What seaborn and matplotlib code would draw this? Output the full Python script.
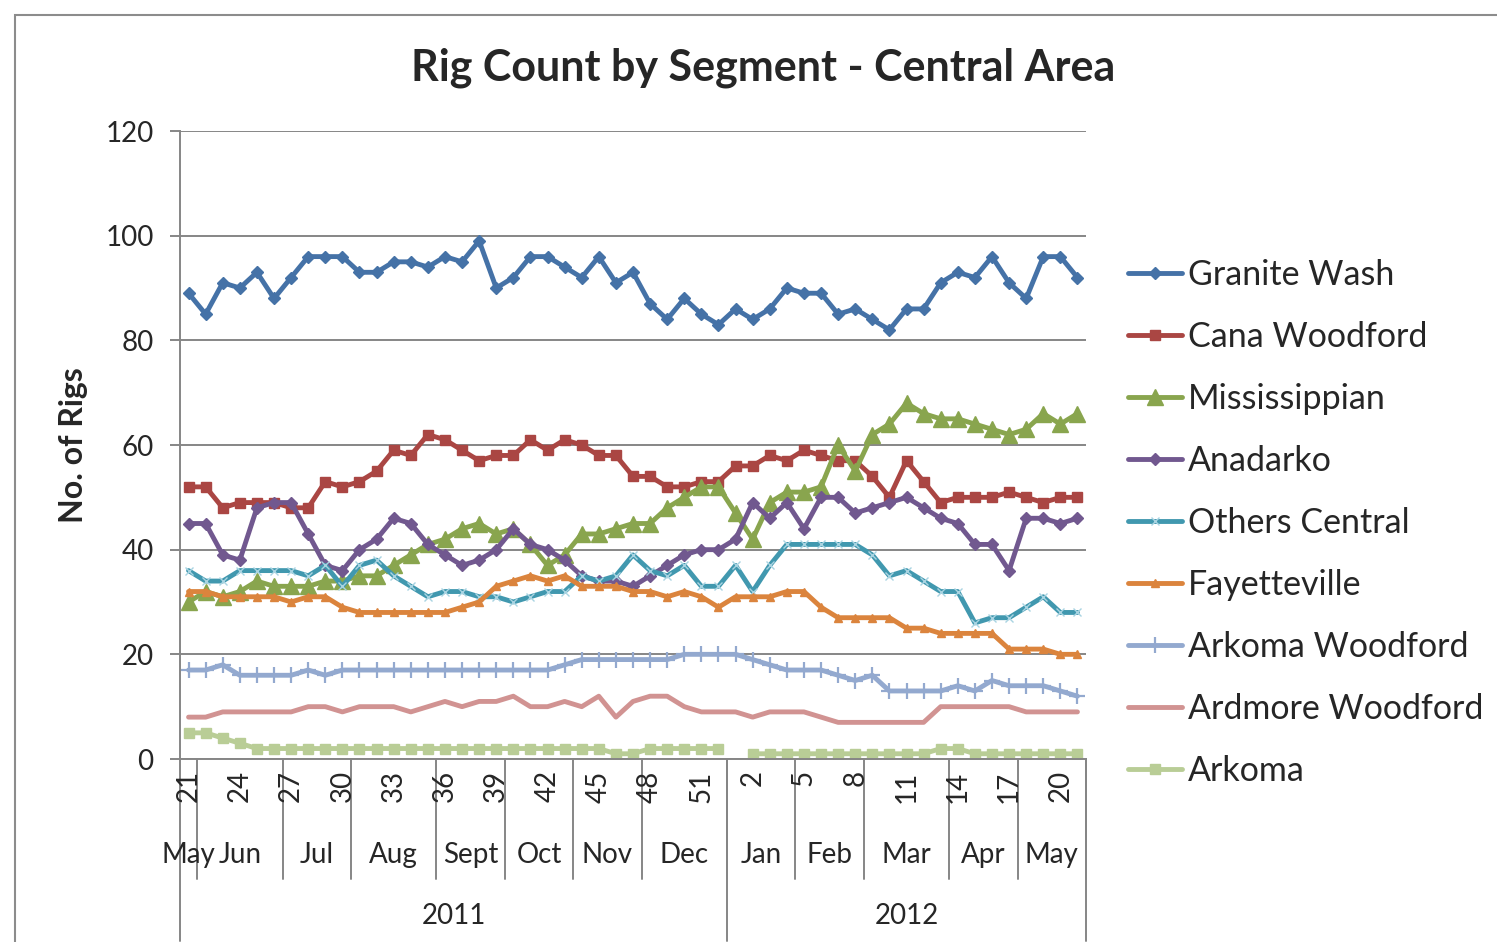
import numpy as np
import pandas as pd
import seaborn as sns
import matplotlib.pyplot as plt
from matplotlib.lines import Line2D
from matplotlib.patches import Rectangle

# x categories: weekly data, week 21 of 2011 to week 21 of 2012
weeks = [21, 22, 23, 24, 25, 26, 27, 28, 29, 30, 31, 32, 33, 34, 35, 36, 37, 38, 39, 40,
         41, 42, 43, 44, 45, 46, 47, 48, 49, 50, 51, 52,
         1, 2, 3, 4, 5, 6, 7, 8, 9, 10, 11, 12, 13, 14, 15, 16, 17, 18, 19, 20, 21]
months = ['May', 'Jun', 'Jul', 'Aug', 'Sept', 'Oct', 'Nov', 'Dec',
          'Jan', 'Feb', 'Mar', 'Apr', 'May']
month_weeks = [1, 5, 4, 5, 4, 4, 4, 5, 4, 4, 5, 4, 4]
years = ['2011', '2012']
year_weeks = [32, 21]

granite_wash = [89, 85, 91, 90, 93, 88, 92, 96, 96, 96, 93, 93, 95, 95, 94, 96, 95, 99, 90, 92,
                96, 96, 94, 92, 96, 91, 93, 87, 84, 88, 85, 83, 86, 84, 86, 90, 89, 89, 85, 86,
                84, 82, 86, 86, 91, 93, 92, 96, 91, 88, 96, 96, 92]
cana_woodford = [52, 52, 48, 49, 49, 49, 48, 48, 53, 52, 53, 55, 59, 58, 62, 61, 59, 57, 58, 58,
                 61, 59, 61, 60, 58, 58, 54, 54, 52, 52, 53, 53, 56, 56, 58, 57, 59, 58, 57, 57,
                 54, 50, 57, 53, 49, 50, 50, 50, 51, 50, 49, 50, 50]
mississippian = [30, 32, 31, 32, 34, 33, 33, 33, 34, 34, 35, 35, 37, 39, 41, 42, 44, 45, 43, 44,
                 41, 37, 39, 43, 43, 44, 45, 45, 48, 50, 52, 52, 47, 42, 49, 51, 51, 52, 60, 55,
                 62, 64, 68, 66, 65, 65, 64, 63, 62, 63, 66, 64, 66]
anadarko = [45, 45, 39, 38, 48, 49, 49, 43, 37, 36, 40, 42, 46, 45, 41, 39, 37, 38, 40, 44,
            41, 40, 38, 35, 34, 34, 33, 35, 37, 39, 40, 40, 42, 49, 46, 49, 44, 50, 50, 47,
            48, 49, 50, 48, 46, 45, 41, 41, 36, 46, 46, 45, 46]
others_central = [36, 34, 34, 36, 36, 36, 36, 35, 37, 33, 37, 38, 35, 33, 31, 32, 32, 31, 31, 30,
                  31, 32, 32, 35, 34, 35, 39, 36, 35, 37, 33, 33, 37, 32, 37, 41, 41, 41, 41, 41,
                  39, 35, 36, 34, 32, 32, 26, 27, 27, 29, 31, 28, 28]
fayetteville = [32, 32, 31, 31, 31, 31, 30, 31, 31, 29, 28, 28, 28, 28, 28, 28, 29, 30, 33, 34,
                35, 34, 35, 33, 33, 33, 32, 32, 31, 32, 31, 29, 31, 31, 31, 32, 32, 29, 27, 27,
                27, 27, 25, 25, 24, 24, 24, 24, 21, 21, 21, 20, 20]
arkoma_woodford = [17, 17, 18, 16, 16, 16, 16, 17, 16, 17, 17, 17, 17, 17, 17, 17, 17, 17, 17, 17,
                   17, 17, 18, 19, 19, 19, 19, 19, 19, 20, 20, 20, 20, 19, 18, 17, 17, 17, 16, 15,
                   16, 13, 13, 13, 13, 14, 13, 15, 14, 14, 14, 13, 12]
ardmore_woodford = [8, 8, 9, 9, 9, 9, 9, 10, 10, 9, 10, 10, 10, 9, 10, 11, 10, 11, 11, 12,
                    10, 10, 11, 10, 12, 8, 11, 12, 12, 10, 9, 9, 9, 8, 9, 9, 9, 8, 7, 7,
                    7, 7, 7, 7, 10, 10, 10, 10, 10, 9, 9, 9, 9]
arkoma = [5, 5, 4, 3, 2, 2, 2, 2, 2, 2, 2, 2, 2, 2, 2, 2, 2, 2, 2, 2,
          2, 2, 2, 2, 2, 1, 1, 2, 2, 2, 2, 2, np.nan, 1, 1, 1, 1, 1, 1, 1,
          1, 1, 1, 1, 2, 2, 1, 1, 1, 1, 1, 1, 1]

df = pd.DataFrame({
    'pos': np.arange(len(weeks)),
    'Granite Wash': granite_wash,
    'Cana Woodford': cana_woodford,
    'Mississippian': mississippian,
    'Anadarko': anadarko,
    'Others Central': others_central,
    'Fayetteville': fayetteville,
    'Arkoma Woodford': arkoma_woodford,
    'Ardmore Woodford': ardmore_woodford,
    'Arkoma': arkoma,
})

# colour, marker, marker size, marker edge width, marker colour
styles = {
    'Granite Wash': ('#4572A7', 'D', 6, 1, '#4572A7'),
    'Cana Woodford': ('#AA4643', 's', 6.5, 1, '#AA4643'),
    'Mississippian': ('#89A54E', '^', 11, 1, '#89A54E'),
    'Anadarko': ('#71588F', 'D', 6, 1, '#71588F'),
    'Others Central': ('#4198AF', 'x', 6, 1, '#A9D4E2'),
    'Fayetteville': ('#DB843D', '^', 5.5, 1, '#DB843D'),
    'Arkoma Woodford': ('#93A9CF', '+', 12, 1.6, '#93A9CF'),
    'Ardmore Woodford': ('#D19392', None, 0, 0, '#D19392'),
    'Arkoma': ('#B9CD96', 's', 6.5, 1, '#B9CD96'),
}

sns.set_theme(style='white')
plt.rcParams['font.family'] = ['Lato', 'DejaVu Sans']

W, H = 1497, 942
fig = plt.figure(figsize=(W / 100, H / 100), dpi=100)
ax = fig.add_axes([180 / W, 1 - 759 / H, (1086 - 180) / W, (759 - 131) / H])

handles = []
for name, (col, mk, ms, mew, mcol) in styles.items():
    kw = dict(color=col, linewidth=3.5, marker=mk, markersize=ms, markeredgewidth=mew,
              markerfacecolor=mcol, markeredgecolor=mcol, legend=False, ax=ax)
    ok = df[name].notna()
    # split on gaps so missing weeks are not joined
    grp = (ok != ok.shift()).cumsum()
    for _, part in df[ok].groupby(grp[ok]):
        sns.lineplot(data=part, x='pos', y=name, **kw)
    handles.append(Line2D([], [], color=col, linewidth=3.5, marker=mk, markersize=ms,
                          markeredgewidth=mew, markerfacecolor=mcol, markeredgecolor=mcol))

ax.set_xlim(-0.5, len(weeks) - 0.5)
ax.set_ylim(0, 120)
ax.set_yticks([0, 20, 40, 60, 80, 100, 120])
ax.yaxis.grid(True, color='#868686', linewidth=1.4)
ax.set_axisbelow(True)
ax.tick_params(axis='y', labelsize=20, length=7, width=1.4, color='#868686', pad=12, left=True)
ax.set_xticks([])
ax.set_xlabel('')
ax.set_ylabel('No. of Rigs', fontsize=23, fontweight='bold')
ax.yaxis.set_label_coords(-0.101, 0.5)
for s in ['top', 'right']:
    ax.spines[s].set_visible(False)
ax.spines['left'].set_color('#868686')
ax.spines['left'].set_linewidth(1.4)
ax.spines['bottom'].set_color('#868686')
ax.spines['bottom'].set_linewidth(1.4)

# multi-level category axis
tr = ax.get_xaxis_transform()
for i, w in enumerate(weeks):
    if i % 3 == 0:
        ax.text(i, -0.018, str(w), transform=tr, rotation=90, ha='center', va='top', fontsize=20)

edge = -0.5
for m, n in zip(months, month_weeks):
    ax.text(edge + n / 2, -0.153, m, transform=tr, ha='center', va='center', fontsize=20)
    edge += n
    ax.plot([edge, edge], [0, -0.191], transform=tr, color='#868686', lw=1.4, clip_on=False)

edge = -0.5
ax.plot([edge, edge], [0, -0.29], transform=tr, color='#868686', lw=1.4, clip_on=False)
for y, n in zip(years, year_weeks):
    ax.text(edge + n / 2, -0.25, y, transform=tr, ha='center', va='center', fontsize=20)
    edge += n
    ax.plot([edge, edge], [0, -0.29], transform=tr, color='#868686', lw=1.4, clip_on=False)

fig.text(763 / W, 1 - 68 / H, 'Rig Count by Segment - Central Area', ha='center', va='center',
         fontsize=31, fontweight='bold')

fig.legend(handles, list(styles.keys()), loc='center left',
           bbox_to_anchor=(1128 / W, 1 - 523 / H), frameon=False, fontsize=24.5,
           borderpad=0, borderaxespad=0, labelspacing=0.88, handlelength=1.6,
           handletextpad=0.15)

# outer chart frame
fig.add_artist(Rectangle((15 / W, -0.1), 1.2, 1 - 15 / H + 0.1, transform=fig.transFigure,
                         fill=False, edgecolor='#8c8c8c', linewidth=1.5))

fig.savefig('out.png', dpi=100)
